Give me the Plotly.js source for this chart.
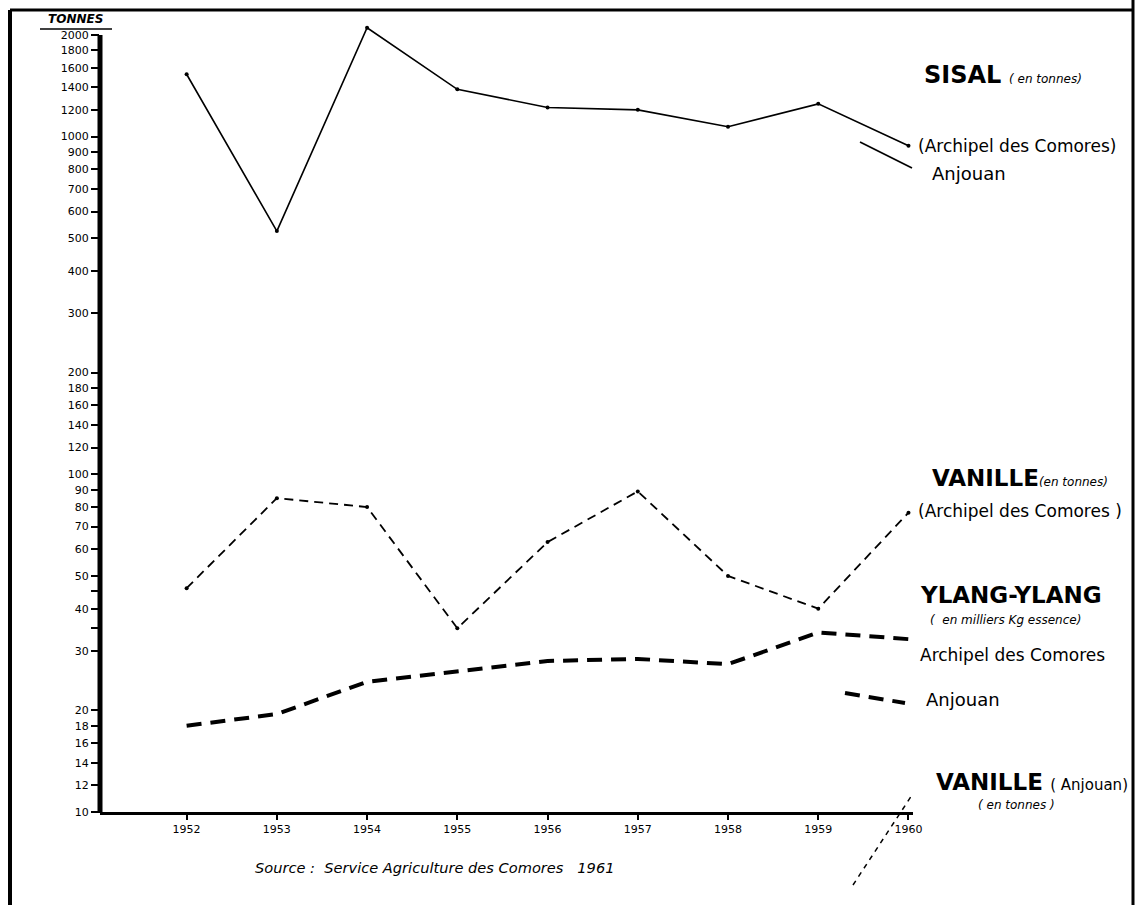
<!DOCTYPE html>
<html>
<head>
<meta charset="utf-8">
<script src="https://cdn.plot.ly/plotly-3.0.1.min.js"></script>
<style>
  html, body { margin: 0; padding: 0; background: #ffffff; }
  #chart { width: 1140px; height: 905px; }
</style>
</head>
<body>
<div id="chart"></div>
<script>
// ---- data ----
const years = [1952, 1953, 1954, 1955, 1956, 1957, 1958, 1959, 1960];
const sisalArchipel = [1530, 525, 2100, 1380, 1220, 1200, 1070, 1250, 940];
const vanilleArchipel = [46, 85, 80, 35, 63, 89, 50, 40, 77];
const ylangArchipel = [18, 19.5, 24.3, 26, 28, 28.4, 27.4, 34, 32.5];

const yTickVals = [10, 12, 14, 16, 18, 20, 30, 35, 40, 45, 50, 60, 70, 80, 90, 100,
                   120, 140, 160, 180, 200, 300, 400, 500, 600, 700, 800, 900, 1000,
                   1200, 1400, 1600, 1800, 2000];
const yTickText = yTickVals.map(v => (v === 35 || v === 45) ? '' : String(v));
const xTickText = years.map(String);

// ---- layout geometry (pixels) ----
const W = 1140, H = 905;
const L = 100, R = 913, T = 24, B = 812;
const pxX = x => (x - L) / (R - L);
const pxY = y => (B - y) / (B - T);
const decadePx = 337.7;
const yTop = 1 + (B - T) / decadePx;

const FONT = 'DejaVu Sans, Liberation Sans, sans-serif';

const traces = [
  {
    x: years, y: sisalArchipel, type: 'scatter', mode: 'lines+markers',
    line: { color: '#000', width: 1.6 },
    marker: { color: '#000', size: 4 },
    cliponaxis: false, name: 'Sisal (Archipel des Comores)'
  },
  {
    x: years, y: vanilleArchipel, type: 'scatter', mode: 'lines+markers',
    line: { color: '#000', width: 1.8, dash: '9px,6px' },
    marker: { color: '#000', size: 4 },
    cliponaxis: false, name: 'Vanille (Archipel des Comores)'
  },
  {
    x: years, y: ylangArchipel, type: 'scatter', mode: 'lines',
    line: { color: '#000', width: 4, dash: '15px,9px' },
    cliponaxis: false, name: 'Ylang-Ylang (Archipel des Comores)'
  }
];

function ann(x, y, text, size, opts) {
  return Object.assign({
    xref: 'paper', yref: 'paper', x: pxX(x), y: pxY(y),
    xanchor: 'left', yanchor: 'middle', showarrow: false,
    text: text, font: { family: FONT, size: size, color: '#000' }
  }, opts || {});
}

const annotations = [
  ann(46, 19, '<b><i>TONNES</i></b>', 12),
  ann(922, 75, '<b>SISAL</b> <i><span style="font-size:12px">( en tonnes)</span></i>', 24),
  ann(916, 146, '(Archipel des Comores)', 17),
  ann(930, 173, 'Anjouan', 18),
  ann(930, 478, '<b>VANILLE</b><i><span style="font-size:12px">(en tonnes)</span></i>', 23),
  ann(916, 511, '(Archipel des Comores )', 17),
  ann(918, 595, '<b>YLANG-YLANG</b>', 23),
  ann(928, 620, '<i>(  en milliers Kg essence)</i>', 12),
  ann(918, 655, 'Archipel des Comores', 17),
  ann(924, 699, 'Anjouan', 18),
  ann(934, 782, '<b>VANILLE</b> <span style="font-size:15px">( Anjouan)</span>', 23),
  ann(976, 805, '<i>( en tonnes )</i>', 12),
  ann(253, 867, '<i>Source :  Service Agriculture des Comores   1961</i>', 14.6)
];

function line(x0, y0, x1, y1, width, dash) {
  return {
    type: 'line', xref: 'paper', yref: 'paper',
    x0: pxX(x0), y0: pxY(y0), x1: pxX(x1), y1: pxY(y1),
    line: { color: '#000', width: width, dash: dash || 'solid' }
  };
}

const shapes = [
  // outer frame
  line(10, 10, 10, 905, 4),
  line(10, 10, 1133, 10, 3),
  line(1133, 0, 1133, 905, 3),
  // y axis line
  line(L, B + 1, L, 35, 5),
  // TONNES underline
  line(40, 29, 112, 29, 1.5),
  // legend keys
  line(860, 142, 912, 168, 1.6),
  line(845, 693, 905, 703, 4, '15px,9px'),
  line(853, 885, 912, 795, 1.5, '5px,5px')
];

const layout = {
  width: W, height: H,
  margin: { l: L, r: W - R, t: T, b: H - B, pad: 0 },
  paper_bgcolor: '#fff', plot_bgcolor: '#fff',
  showlegend: false,
  font: { family: FONT, color: '#000' },
  xaxis: {
    range: [1951.04, 1960.05],
    tickmode: 'array', tickvals: years, ticktext: xTickText,
    ticks: 'outside', ticklen: 5, tickwidth: 2, tickcolor: '#000',
    tickfont: { family: FONT, size: 11, color: '#000' },
    showline: true, linewidth: 3, linecolor: '#000',
    showgrid: false, zeroline: false
  },
  yaxis: {
    type: 'log', range: [1, yTop],
    tickmode: 'array', tickvals: yTickVals, ticktext: yTickText,
    ticks: 'outside', ticklen: 8, tickwidth: 2, tickcolor: '#000',
    tickfont: { family: FONT, size: 11, color: '#000' },
    showline: false, showgrid: false, zeroline: false
  },
  annotations: annotations,
  shapes: shapes
};

Plotly.newPlot('chart', traces, layout, { displayModeBar: false, staticPlot: true });
</script>
</body>
</html>
